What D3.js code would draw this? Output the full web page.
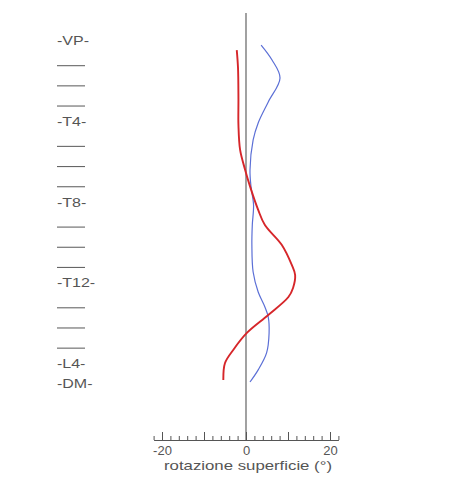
<!DOCTYPE html>
<html>
<head>
<meta charset="utf-8">
<script src="https://cdn.jsdelivr.net/npm/d3@7"></script>
<style>
  body { margin: 0; background: #fff; }
  text { font-family: "Liberation Sans", Arial, sans-serif; fill: #555; }
</style>
</head>
<body>
<div id="chart"></div>
<script>
var svgWidth = 450;
var svgHeight = 483;

// vertebral levels, top to bottom ("" = unlabelled level)
var levels = ["-VP-", "", "", "", "-T4-", "", "", "", "-T8-", "", "", "", "-T12-", "", "", "", "-L4-", "-DM-"];

// curves: level position (fractional index) and rotation in degrees
var redLevel = [0.45, 1.34, 2.9, 4.16, 5.4, 6.39, 7.23, 8.37, 9.12, 10.1, 11.1, 11.6, 12.24, 12.69, 13.58, 14.47, 15.3, 15.96, 16.8];
var redValue = [-2.2, -1.9, -1.8, -1.8, -1.4, -0.2, 1.0, 2.9, 4.5, 8.5, 10.9, 11.7, 11.2, 10.1, 5.3, 0.2, -3.0, -5.0, -5.4];

var blueLevel = [0.2, 0.94, 1.83, 3.02, 4.06, 4.9, 6.39, 7.23, 8.13, 9.12, 10.1, 11.45, 12.44, 13.18, 13.68, 14.47, 15.46, 16.3, 16.9];
var blueValue = [3.6, 6.2, 8.1, 5.3, 2.9, 1.7, 0.95, 1.2, 1.8, 1.5, 1.4, 1.7, 2.9, 4.5, 5.3, 5.5, 4.9, 2.9, 0.95];

var xMinorTicks = d3.range(-22, 23, 2);
var xMajorTicks = [-20, -10, 0, 10, 20];
var xTickLabels = {"-20": "-20", "0": "0", "20": "20"};

var svg = d3.select("#chart")
  .append("svg")
  .attr("width", svgWidth)
  .attr("height", svgHeight);

var xScale = d3.scaleLinear()
  .domain([-22, 22])
  .range([153.6, 338.4]);

var yScale = d3.scaleLinear()
  .domain([0, levels.length - 1])
  .range([41, 384]);

// level labels on the left
var labelGroup = svg.append("g")
  .attr("transform", "translate(57,0) scale(1.28,1)");

levels.forEach(function(name, i) {
  if (name) {
    labelGroup.append("text")
      .attr("x", 0)
      .attr("y", yScale(i))
      .attr("dy", "0.35em")
      .attr("font-size", "12.5px")
      .text(name);
  } else {
    svg.append("line")
      .attr("x1", 57)
      .attr("x2", 85)
      .attr("y1", yScale(i) + 4.5)
      .attr("y2", yScale(i) + 4.5)
      .attr("stroke", "#666")
      .attr("stroke-width", 1.1);
  }
});

// vertical zero line
svg.append("line")
  .attr("x1", xScale(0))
  .attr("x2", xScale(0))
  .attr("y1", 13)
  .attr("y2", 440)
  .attr("stroke", "#7a7a7a")
  .attr("stroke-width", 1.4);

// x axis: minor then major ticks, pointing up
var minorAxis = d3.axisBottom(xScale)
  .tickValues(xMinorTicks)
  .tickSizeInner(-4)
  .tickSizeOuter(0)
  .tickFormat("");

var majorAxis = d3.axisBottom(xScale)
  .tickValues(xMajorTicks)
  .tickSizeInner(-8)
  .tickSizeOuter(0)
  .tickPadding(6)
  .tickFormat(function(d) { return xTickLabels[d] || ""; });

svg.append("g")
  .attr("transform", "translate(0,440)")
  .call(minorAxis)
  .call(function(g) { g.selectAll("line, path").attr("stroke", "#555"); });

svg.append("g")
  .attr("transform", "translate(0,440)")
  .call(majorAxis)
  .call(function(g) {
    g.select(".domain").remove();
    g.selectAll("line").attr("stroke", "#555");
    g.selectAll("text")
      .attr("fill", "#555")
      .attr("font-size", "13px")
      .attr("font-family", "Liberation Sans, Arial, sans-serif");
  });

svg.append("text")
  .attr("x", 248)
  .attr("y", 470)
  .attr("text-anchor", "middle")
  .attr("font-size", "13px")
  .attr("textLength", 168)
  .attr("lengthAdjust", "spacingAndGlyphs")
  .text("rotazione superficie (°)");

// curves
var line = d3.line()
  .x(function(d) { return xScale(d[1]); })
  .y(function(d) { return yScale(d[0]); })
  .curve(d3.curveCatmullRom);

svg.append("path")
  .datum(d3.zip(blueLevel, blueValue))
  .attr("d", line)
  .attr("fill", "none")
  .attr("stroke", "#5b6fd6")
  .attr("stroke-width", 1.2);

svg.append("path")
  .datum(d3.zip(redLevel, redValue))
  .attr("d", line)
  .attr("fill", "none")
  .attr("stroke", "#d6262a")
  .attr("stroke-width", 1.9);
</script>
</body>
</html>
